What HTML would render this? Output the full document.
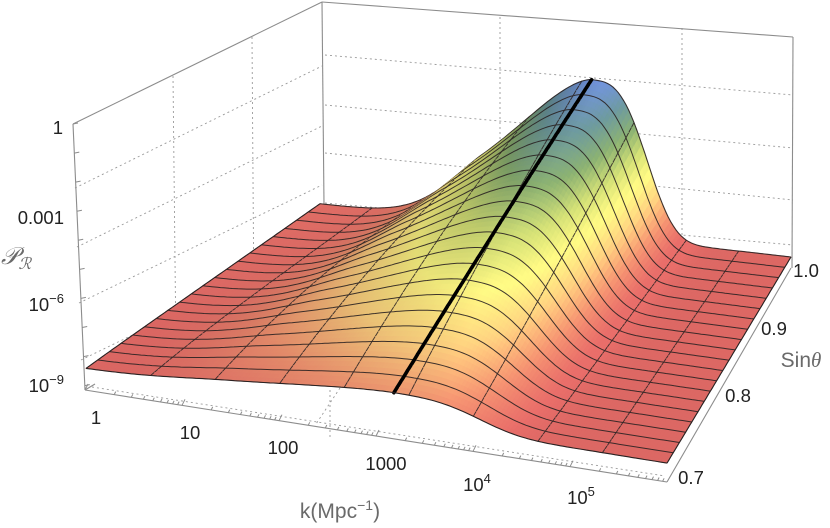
<!DOCTYPE html>
<html><head><meta charset="utf-8">
<style>
html,body{margin:0;padding:0;background:#fff;}
svg{display:block;}
.t{font-family:"Liberation Sans",sans-serif;font-size:18.5px;fill:#222;}
.g{font-family:"Liberation Sans",sans-serif;font-size:21px;fill:#6a6a6a;}
</style></head>
<body>
<svg id="s" width="830" height="528" viewBox="0 0 830 528" xmlns="http://www.w3.org/2000/svg">
<g id="grid" fill="none" stroke="#9a9a9a" stroke-width="0.9" stroke-dasharray="2,3">
  <line x1="325" y1="55" x2="793" y2="95"/>
  <line x1="325" y1="105" x2="793" y2="148"/>
  <line x1="325" y1="153" x2="793" y2="200"/>
  <line x1="325" y1="203" x2="793" y2="245"/>
  <line x1="500" y1="17" x2="500" y2="240"/>
  <line x1="682" y1="28" x2="682" y2="255"/>
  <line x1="75" y1="188" x2="322" y2="66"/>
  <line x1="77" y1="247" x2="322" y2="126"/>
  <line x1="79" y1="303" x2="322" y2="185"/>
  <line x1="81" y1="360" x2="322" y2="243"/>
  <line x1="173" y1="76" x2="176" y2="352"/>
  <line x1="252" y1="37" x2="254" y2="318"/>
  <line x1="92" y1="387" x2="665" y2="476"/>
  <line x1="340" y1="388" x2="316" y2="424"/>
  <line x1="330" y1="230" x2="330" y2="440"/>
</g>
<g fill="none" stroke="#8c8c8c" stroke-width="1.1">
  <line x1="73" y1="124" x2="85" y2="390"/>
  <line x1="73" y1="124" x2="322" y2="2"/>
  <line x1="322" y1="2" x2="793" y2="37"/>
  <line x1="322" y1="2" x2="324" y2="205"/>
  <line x1="793" y1="37" x2="792" y2="268"/>
  <line x1="85" y1="390" x2="667" y2="482"/>
  <line x1="667" y1="482" x2="791" y2="268"/>
  <line x1="85" y1="390" x2="95" y2="384"/>
</g>
<g id="ticks" stroke="#8c8c8c" stroke-width="1"></g>
<g id="surf"></g>
<g>
  <text class="t" x="63" y="134" text-anchor="end">1</text>
  <text class="t" x="64" y="224" text-anchor="end">0.001</text>
  <text class="t" x="64" y="311" text-anchor="end">10<tspan dy="-8" font-size="13">−6</tspan></text>
  <text class="t" x="64" y="392" text-anchor="end">10<tspan dy="-8" font-size="13">−9</tspan></text>
  <text x="1" y="264" style="font-family:'Liberation Serif','DejaVu Serif',serif;font-style:italic;font-size:24px;fill:#6a6a6a">𝒫<tspan dy="5" font-size="16">ℛ</tspan></text>

  <text class="t" x="96" y="424" text-anchor="middle">1</text>
  <text class="t" x="190" y="439" text-anchor="middle">10</text>
  <text class="t" x="283" y="454" text-anchor="middle">100</text>
  <text class="t" x="386" y="470" text-anchor="middle">1000</text>
  <text class="t" x="477" y="491" text-anchor="middle">10<tspan dy="-8" font-size="13">4</tspan></text>
  <text class="t" x="581" y="504" text-anchor="middle">10<tspan dy="-8" font-size="13">5</tspan></text>
  <text class="g" x="340" y="518" text-anchor="middle">k(Mpc<tspan dy="-8" font-size="14">−1</tspan><tspan dy="8">)</tspan></text>

  <text class="t" x="806" y="277" text-anchor="middle">1.0</text>
  <text class="t" x="774" y="335" text-anchor="middle">0.9</text>
  <text class="t" x="738" y="402" text-anchor="middle">0.8</text>
  <text class="t" x="691" y="484" text-anchor="middle">0.7</text>
  <text class="g" x="801" y="367" text-anchor="middle">Sin<tspan font-style="italic" font-family="'Liberation Serif',serif">θ</tspan></text>
</g>
</svg>
<script>
(function(){
var surf=document.getElementById('surf');
var Q00=[86,392],Q10=[667,482],Q01=[320,228],Q11=[791,268];
var s00=28.5,s10=27,s01=24.2,s11=24.5;
function P(L,v,h){
  var u=L/6;
  var fx=Q00[0]+u*(Q10[0]-Q00[0]), fy=Q00[1]+u*(Q10[1]-Q00[1]);
  var bx=Q01[0]+u*(Q11[0]-Q01[0]), by=Q01[1]+u*(Q11[1]-Q01[1]);
  var x=fx+v*(bx-fx), y=fy+v*(by-fy);
  var s=(1-u)*(1-v)*s00+u*(1-v)*s10+(1-u)*v*s01+u*v*s11;
  return [x,y-h*s];
}
function H(L,v){
  var base=0.8+0.2*v-(0.1+0.45*v)*(L/6);
  var Lc=3.18+0.28*v, A=0.95+5.4*v, W=1.25-0.25*v;
  var d=(L-Lc)/W, f;
  if(d<0){f=Math.exp(-Math.pow(-d/1.57,1.61)); if(d<-1.4) f*=Math.exp(-Math.pow(-d-1.4,2));}
  else f=Math.exp(-Math.pow(d/0.81,3.1));
  return base+A*f;
}
function ridge(v){return 3.18+0.28*v;}
var stops=[[0.9,[220,104,100]],[1.6,[232,140,108]],[2.5,[243,200,122]],[3.4,[245,238,126]],[4.3,[200,212,112]],[5.2,[132,168,108]],[6.1,[104,146,150]],[7.0,[108,140,210]],[8,[108,140,215]]];
function col(h,sh){
  var c;
  if(h<=stops[0][0]) c=stops[0][1];
  else{
    c=stops[stops.length-1][1];
    for(var i=0;i<stops.length-1;i++){
      if(h>=stops[i][0]&&h<=stops[i+1][0]){
        var t=(h-stops[i][0])/(stops[i+1][0]-stops[i][0]);
        var a=stops[i][1],b=stops[i+1][1];
        c=[a[0]+t*(b[0]-a[0]),a[1]+t*(b[1]-a[1]),a[2]+t*(b[2]-a[2])];break;
      }
    }
  }
  return 'rgb('+Math.min(255,Math.round(c[0]*sh))+','+Math.min(255,Math.round(c[1]*sh))+','+Math.min(255,Math.round(c[2]*sh))+')';
}
var NL=180,NV=60,MV=3;
var html='';
function pts(a){return a.map(function(p){return p[0].toFixed(1)+','+p[1].toFixed(1);}).join(' ');}
for(var j=NV-1;j>=0;j--){
  var v0=j/NV,v1=(j+1)/NV,vm=(v0+v1)/2;
  for(var i=0;i<NL;i++){
    var L0=6*i/NL,L1=6*(i+1)/NL,Lm=(L0+L1)/2;
    var h00=H(L0,v0),h10=H(L1,v0),h01=H(L0,v1),h11=H(L1,v1);
    var hm=H(Lm,vm);
    var dL=(H(Lm+0.02,vm)-H(Lm-0.02,vm))/0.04;
    var dv=(H(Lm,Math.min(1,vm+0.01))-H(Lm,Math.max(0,vm-0.01)))/0.02;
    var sh=1-0.24*Math.tanh(dL/4)+0.03*Math.tanh(dv/10);
    if(sh>1.06)sh=1.06;
    var c=col(hm,sh);
    var poly=[P(L0,v0,h00),P(L1,v0,h10),P(L1,v1,h11),P(L0,v1,h01)];
    html+='<polygon points="'+pts(poly)+'" fill="'+c+'" stroke="'+c+'" stroke-width="0.7"/>';
  }
  for(var k=0;k<=9;k++){
    var L=6*k/9;
    var a=P(L,v0,H(L,v0)),b=P(L,v1,H(L,v1));
    html+='<line x1="'+a[0].toFixed(1)+'" y1="'+a[1].toFixed(1)+'" x2="'+b[0].toFixed(1)+'" y2="'+b[1].toFixed(1)+'" stroke="#2e2626" stroke-width="0.95" stroke-opacity="0.9"/>';
  }
  if((j+1)%MV==0){
    var arr=[];
    for(var i2=0;i2<=NL;i2++){var L2=6*i2/NL;arr.push(P(L2,v1,H(L2,v1)));}
    html+='<polyline points="'+pts(arr)+'" fill="none" stroke="#2a2222" stroke-width="'+((j+1)==NV?1.1:1.0)+'" stroke-opacity="0.9"/>';
  }
  var ra=P(ridge(v0),v0,H(ridge(v0),v0)), rb=P(ridge(v1),v1,H(ridge(v1),v1));
  html+='<line x1="'+ra[0].toFixed(1)+'" y1="'+ra[1].toFixed(1)+'" x2="'+rb[0].toFixed(1)+'" y2="'+rb[1].toFixed(1)+'" stroke="#000" stroke-width="3.6" stroke-linecap="round"/>';
}
var fr=[];for(var i3=0;i3<=NL;i3++){var L3=6*i3/NL;fr.push(P(L3,0,H(L3,0)));}
html+='<polyline points="'+pts(fr)+'" fill="none" stroke="#2a2222" stroke-width="1.1"/>';
var le=[],re=[];for(var j3=0;j3<=NV;j3++){var vv=j3/NV;le.push(P(0,vv,H(0,vv)));re.push(P(6,vv,H(6,vv)));}
html+='<polyline points="'+pts(le)+'" fill="none" stroke="#2a2222" stroke-width="1"/>';
html+='<polyline points="'+pts(re)+'" fill="none" stroke="#2a2222" stroke-width="1"/>';
surf.innerHTML=html;
var t='';
for(var d=0;d<6;d++){for(var m=1;m<10;m++){var lg=d+Math.log10(m);if(lg>6)break;var u=lg/6;
 var x=85+u*582,y=390+u*92,len=(m==1)?6:3;
 t+='<line x1="'+x.toFixed(1)+'" y1="'+y.toFixed(1)+'" x2="'+(x+len*0.5).toFixed(1)+'" y2="'+(y-len).toFixed(1)+'"/>';}}
for(var z=0;z<=9;z++){var yy=124+z*(266/9.15),xx=73+(yy-124)*12/266;
 t+='<line x1="'+xx.toFixed(1)+'" y1="'+yy.toFixed(1)+'" x2="'+(xx+5).toFixed(1)+'" y2="'+(yy-1).toFixed(1)+'"/>';}
document.getElementById('ticks').innerHTML=t;
})();
</script>
</body></html>
